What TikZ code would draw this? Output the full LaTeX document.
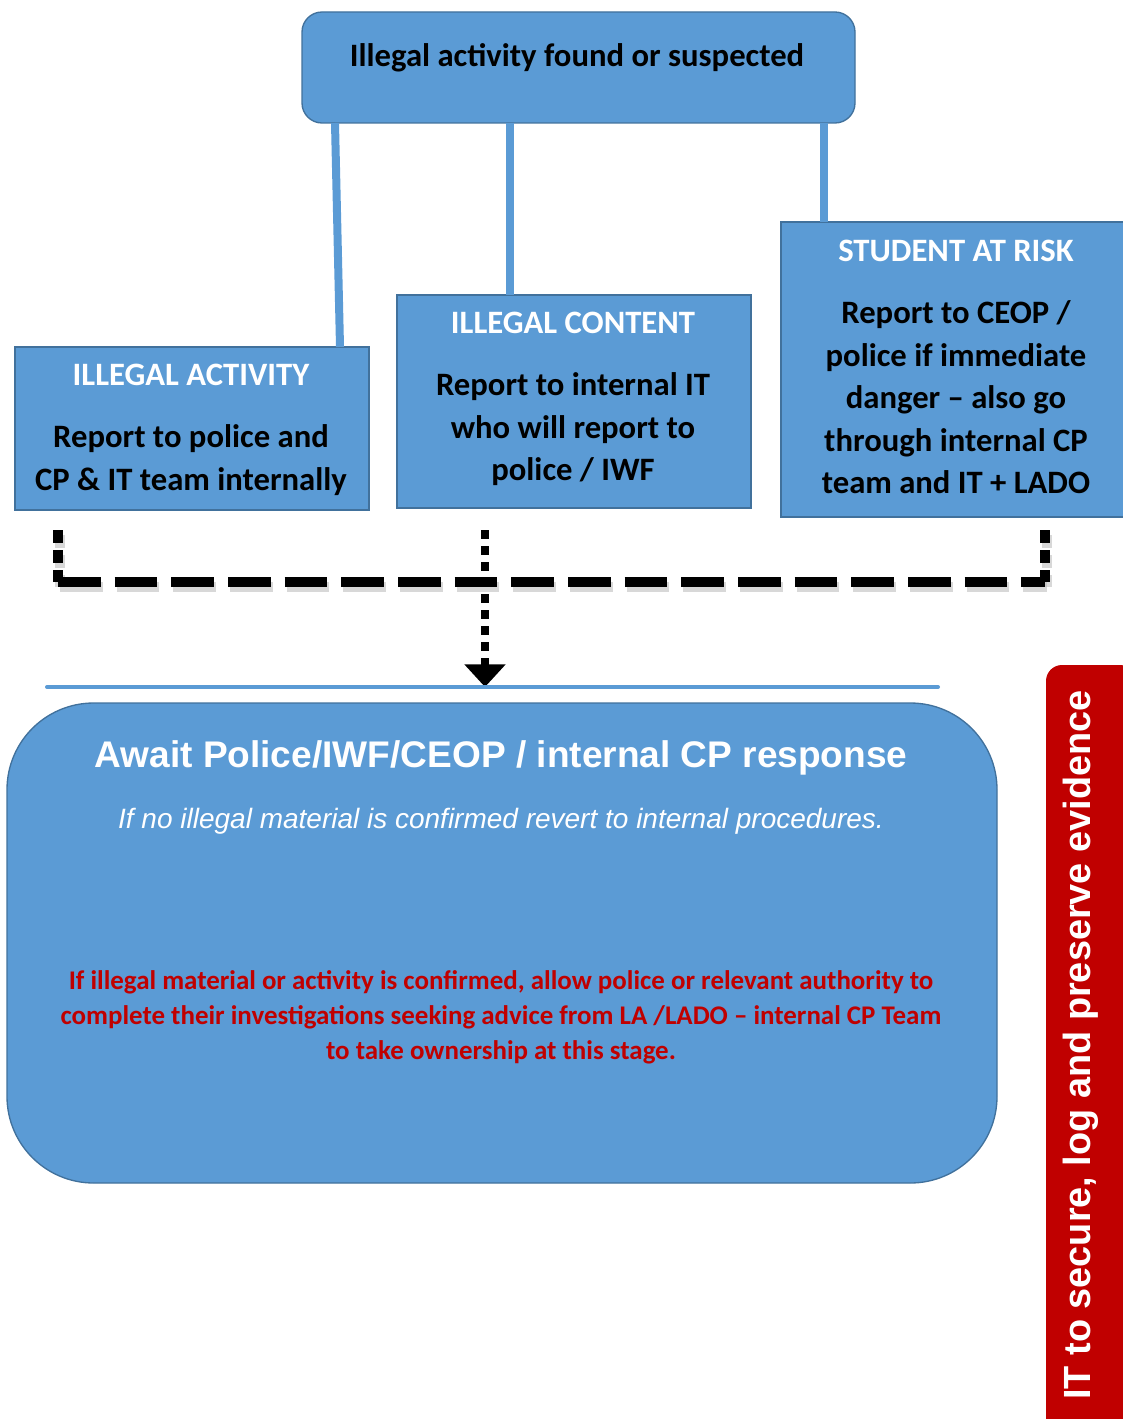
\documentclass[tikz,border=0pt]{standalone}
\usepackage{fontspec}
\setmainfont{Carlito}
\newfontfamily\arialfont{Liberation Sans}
\usetikzlibrary{arrows.meta}

\definecolor{boxblue}{HTML}{5B9BD5}
\definecolor{boxedge}{HTML}{41719C}
\definecolor{alarmred}{HTML}{C00000}

\def\pxl{0.75pt}
\def\lw{6pt}

\tikzset{
  box/.style={draw=boxedge, fill=boxblue, line width=1pt, inner sep=0pt, outer sep=0pt},
  link/.style={draw=boxblue, line width=\lw},
  txt/.style={align=center, inner sep=0pt, font=\bfseries\fontsize{24.5}{31.9}\selectfont},
  dashh/.style={line width=7.5pt, dash pattern=on 32pt off 10.5pt},
  dashv/.style={line width=7.5pt, dash pattern=on 9.75pt off 5.25pt},
  dotv/.style={line width=6pt, dash pattern=on 6.75pt off 5.25pt}
}

\begin{document}
\begin{tikzpicture}[x=\pxl, y=-\pxl]
 \useasboundingbox (0,0) rectangle (1122,1419);

 \node[box, rounded corners=15pt, minimum width=553*\pxl, minimum height=111*\pxl] (top) at (578.5,67.5) {};
 \node[txt] (topT) at (577,58) {Illegal activity found or suspected};

 \node[box, minimum width=354*\pxl, minimum height=163*\pxl] (act) at (192,428.5) {};
 \node[box, minimum width=354*\pxl, minimum height=213*\pxl] (con) at (574,401.5) {};
 \node[box, minimum width=350*\pxl, minimum height=295*\pxl] (risk) at (956,369.5) {};

 \draw[link] (top.south -| 335,0) -- (act.north -| 340,0);
 \draw[link] (top.south -| 510,0) -- (con.north -| 510,0);
 \draw[link] (top.south -| 824,0) -- (risk.north -| 824,0);

 \node[txt, anchor=north] (actT) at (191,363.5) {\textcolor{white}{ILLEGAL ACTIVITY}\\[15pt]
   Report to police and\\ CP \& IT team internally};
 \node[txt, anchor=north] (conT) at (573,311.5) {\textcolor{white}{ILLEGAL CONTENT}\\[15pt]
   Report to internal IT\\ who will report to\\ police / IWF};
 \node[txt, anchor=north] (riskT) at (956,239.5) {\textcolor{white}{STUDENT AT RISK}\\[15pt]
   Report to CEOP /\\ police if immediate\\ danger -- also go\\ through internal CP\\ team and IT + LADO};

 \coordinate (dL) at (58,530);
 \coordinate (dM) at (485,530);
 \coordinate (dR) at (1045,530);
 \coordinate (bL) at (58,582);
 \coordinate (bR) at (1045,582);
 \coordinate (bar1) at (47,687);
 \coordinate (bar2) at (938,687);

 % Schatten
 \begin{scope}[transform canvas={shift={(2,5)}}, black!30, opacity=0.5]
  \draw[dashv] (dL) -- (bL);
  \draw[dashv] (dR) -- (bR);
  \draw[dashh] (bL) -- (bR);
 \end{scope}

 \draw[dashv] (dL) -- (bL);
 \draw[dashv] (dR) -- (bR);
 \draw[dashh] (bL) -- (bR);
 \draw[dotv, -{Triangle[width=30pt, length=17pt]}] (dM) -- (bar1 -| dM);

 \draw[line width=3pt, boxblue, line cap=round] (bar1) -- (bar2);

 \node[box, rounded corners=65pt, minimum width=990*\pxl, minimum height=480*\pxl] (await) at (502,943) {};
 \node[inner sep=0pt, text=white, font=\arialfont\bfseries\fontsize{27.8}{30}\selectfont] (awaitT) at (501,758)
   {Await Police/IWF/CEOP / internal CP response};
 \node[inner sep=0pt, text=white, font=\arialfont\itshape\fontsize{21}{25}\selectfont] (revert) at (501,821)
   {If no illegal material is confirmed revert to internal procedures.};
 \node[txt, text=alarmred, font=\bfseries\fontsize{20.2}{26.25}\selectfont] (confirm) at (501,1017)
   {If illegal material or activity is confirmed, allow police or relevant authority to\\
    complete their investigations seeking advice from LA /LADO -- internal CP Team\\
    to take ownership at this stage.};

 \node[fill=alarmred, rounded corners=12pt, inner sep=0pt, minimum width=90*\pxl, minimum height=770*\pxl] (side) at (1091,1050) {};
 \node[rotate=90, inner sep=0pt, text=white, font=\arialfont\bfseries\fontsize{28.4}{30}\selectfont] (sideT) at (1081,1045)
   {IT to secure, log and preserve evidence};
\end{tikzpicture}
\end{document}
